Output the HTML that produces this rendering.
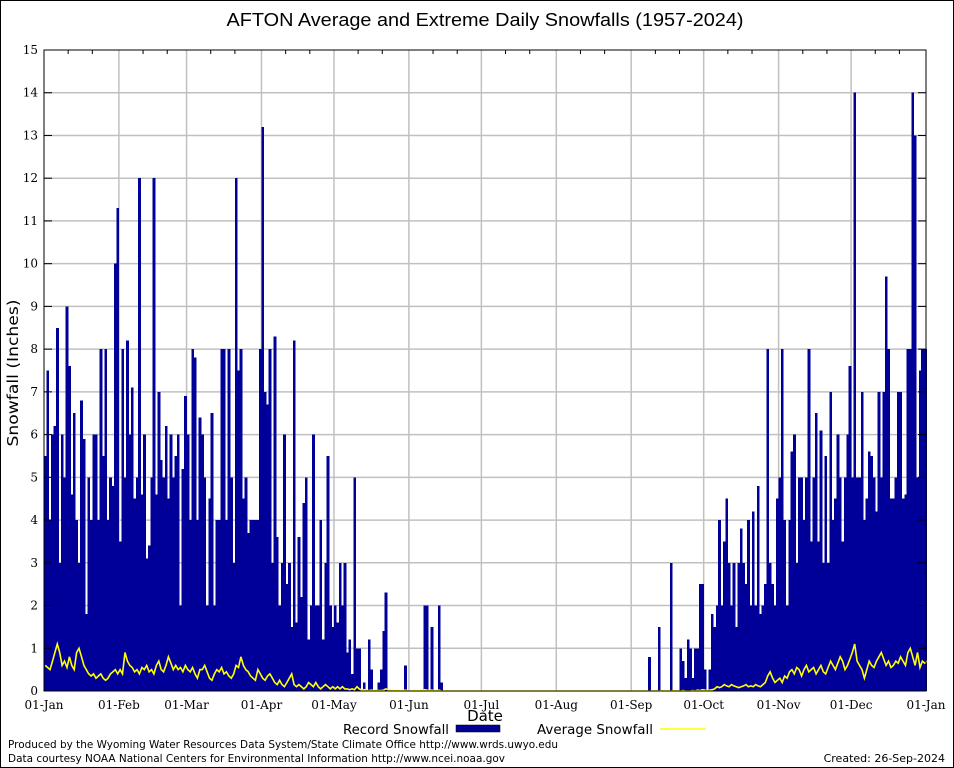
<!DOCTYPE html>
<html><head><meta charset="utf-8"><style>
html,body{margin:0;padding:0;background:#fff;}
svg{display:block;font-family:"DejaVu Sans","Liberation Sans",sans-serif;}
.serif{font-family:"DejaVu Serif","Liberation Serif",serif;}
</style></head><body>
<svg id="chart" width="954" height="768" viewBox="0 0 954 768">
<rect x="0.5" y="0.5" width="953" height="767" fill="#fff" stroke="#000" stroke-width="1"/>
<text x="485" y="26" font-size="18" text-anchor="middle" textLength="517" lengthAdjust="spacingAndGlyphs" font-family="Liberation Sans, sans-serif" fill="#000">AFTON Average and Extreme Daily Snowfalls (1957-2024)</text>
<text transform="translate(18,373) rotate(-90)" font-size="15" text-anchor="middle" textLength="147" lengthAdjust="spacingAndGlyphs" fill="#000">Snowfall (Inches)</text>
<text x="485" y="721" font-size="15" text-anchor="middle" fill="#000">Date</text>
<g id="grid"></g>
<g id="bars" shape-rendering="crispEdges"></g>
<g id="avg"></g>
<rect x="44" y="50" width="882" height="641" fill="none" stroke="#000" stroke-width="1" shape-rendering="crispEdges"/>
<g id="ticks"></g>
<g>
<text x="449" y="734" font-size="13" text-anchor="end" textLength="106" lengthAdjust="spacingAndGlyphs">Record Snowfall</text>
<rect x="456" y="725" width="44" height="7" fill="#000099" stroke="#000" stroke-width="0.5"/>
<text x="653" y="734" font-size="13" text-anchor="end" textLength="116" lengthAdjust="spacingAndGlyphs">Average Snowfall</text>
<line x1="660" y1="729" x2="706" y2="729" stroke="#ffff00" stroke-width="1.5"/>
</g>
<text x="8" y="748" font-size="11" textLength="550" lengthAdjust="spacingAndGlyphs">Produced by the Wyoming Water Resources Data System/State Climate Office http://www.wrds.uwyo.edu</text>
<text x="8" y="762" font-size="11" textLength="497" lengthAdjust="spacingAndGlyphs">Data courtesy NOAA National Centers for Environmental Information http://www.ncei.noaa.gov</text>
<text x="945" y="762" font-size="11" text-anchor="end">Created:  26-Sep-2024</text>
</svg>
<script>
const yTicks=[0,1,2,3,4,5,6,7,8,9,10,11,12,13,14,15];
const monthLabels=["01-Jan","01-Feb","01-Mar","01-Apr","01-May","01-Jun","01-Jul","01-Aug","01-Sep","01-Oct","01-Nov","01-Dec","01-Jan"];
const monthDays=[0,31,59,90,120,151,181,212,243,273,304,334,365];
const recordSnow=[
5.5,7.5,4,6,6.2,8.5,3,6,5,9,
7.6,4.6,6.5,4,3,6.8,5.9,1.8,5,4,
6,6,4,8,5.5,8,4,5,4.8,10,
11.3,3.5,8,5,8.2,6,7.1,4.5,5,12,
4.6,6,3.1,3.4,5,12,4.6,7,5.4,5,
6.2,4.5,6,5,5.5,6,2,5.2,6.9,6,
4,8,7.8,4,6.4,6,5,2,4.5,6.5,
2,4,4,8,8,4,8,5,3,12,
7.5,8,4.5,5,3.7,4,4,4,4,8,
13.2,7,6.7,8,3,8.3,3.6,2,3,6,
2.5,3,1.5,8.2,1.6,3.6,2.2,4.4,5,1.2,
2,6,2,2,4,1.2,3,5.5,2,1.5,
2,1.6,3,2,3,0.9,1.2,0.4,5,1,
1,0,0.2,0,1.2,0.5,0,0,0.2,0.5,
1.4,2.3,0,0,0,0,0,0,0,0.6,
0,0,0,0,0,0,0,2,2,0,
1.5,0,0,2,0.2,0,0,0,0,0,
0,0,0,0,0,0,0,0,0,0,
0,0,0,0,0,0,0,0,0,0,
0,0,0,0,0,0,0,0,0,0,
0,0,0,0,0,0,0,0,0,0,
0,0,0,0,0,0,0,0,0,0,
0,0,0,0,0,0,0,0,0,0,
0,0,0,0,0,0,0,0,0,0,
0,0,0,0,0,0,0,0,0,0,
0.8,0,0,0,1.5,0,0,0,0,3,
0,0,0,1,0.7,0.3,1.2,1,0.3,1,
1,2.5,2.5,0.5,0,0.5,1.8,1.5,2,4,
2,3.5,4.5,3,2,3,1.5,3,3.8,3,
2.5,4,2,4.2,2,4.8,1.8,2,2.5,8,
3,2.5,2,4.5,5,8,4,2,4,5.6,
6,3,5,5,4,5,8,3.5,5,6.5,
3.5,6.1,3,5.5,3,7,4,4.5,6,5,
3.5,5,6,7.6,5,14,5,5,7,4,
4.5,5.6,5.5,5,4.2,7,5,7,9.7,8,
4.5,4.5,5,7,7,4.5,4.6,8,8,14,
13,5,7.5,8,8,8];
const avgSnow=[
.6,.55,.5,.7,.9,1.1,.9,.6,.7,.55,
.8,.6,.5,.9,1.0,.8,.6,.5,.4,.35,
.4,.3,.35,.4,.3,.25,.3,.4,.45,.5,
.4,.5,.4,.9,.7,.6,.55,.45,.5,.4,
.55,.5,.6,.45,.5,.4,.6,.7,.5,.45,
.6,.8,.65,.5,.6,.5,.55,.45,.6,.5,
.45,.55,.4,.3,.5,.5,.6,.45,.3,.25,
.4,.5,.45,.55,.4,.45,.35,.3,.4,.6,
.55,.8,.6,.5,.45,.35,.3,.25,.5,.4,
.3,.25,.35,.4,.3,.2,.15,.25,.15,.1,
.2,.3,.4,.15,.1,.15,.1,.05,.1,.2,
.15,.1,.2,.1,.05,.1,.15,.1,.05,.1,
.05,.1,.05,.1,.05,.05,.03,.05,.03,.1,
.05,.02,.03,.02,.01,.02,.01,.02,.01,.01,
.02,.05,.03,.01,.01,.01,.01,0,.01,.02,
0,0,0,.01,0,0,.02,.03,.02,.01,
.02,0,.01,.02,0,0,0,0,0,0,
0,0,0,0,0,0,0,0,0,0,
0,0,0,0,0,0,0,0,0,0,
0,0,0,0,0,0,0,0,0,0,
0,0,0,0,0,0,0,0,0,0,
0,0,0,0,0,0,0,0,0,0,
0,0,0,0,0,0,0,0,0,0,
0,0,0,0,0,0,0,0,0,0,
0,0,0,0,0,0,0,0,0,0,
0,0,0,0,0,.01,0,0,0,0,
.01,0,0,0,.01,0,0,0,.01,0,
.02,.01,.03,.02,.01,.02,.03,.05,.1,.08,
.1,.15,.12,.1,.15,.12,.1,.08,.1,.12,
.15,.1,.12,.1,.15,.12,.1,.15,.2,.35,
.45,.3,.2,.25,.3,.2,.35,.3,.45,.5,
.4,.55,.5,.35,.5,.6,.45,.5,.55,.4,
.5,.6,.45,.4,.55,.7,.6,.5,.65,.8,
.7,.5,.6,.75,.9,1.1,.7,.6,.5,.3,
.5,.7,.6,.55,.7,.8,.9,.75,.6,.7,
.55,.6,.7,.65,.8,.7,.6,.9,1.0,.8,
.6,.9,.55,.7,.65,.7];

const NS='http://www.w3.org/2000/svg';
const X0=44,X1=926,Y0=691,Y1=50,NDAYS=365,YMAX=15;
function xs(d){return X0+(X1-X0)*d/NDAYS;}
function ys(v){return Y0-(Y0-Y1)*v/YMAX;}
function mk(tag,attrs,parent){const e=document.createElementNS(NS,tag);for(const k in attrs)e.setAttribute(k,attrs[k]);parent.appendChild(e);return e;}
const grid=document.getElementById('grid'),bars=document.getElementById('bars'),avgG=document.getElementById('avg'),ticks=document.getElementById('ticks');
yTicks.forEach(v=>{
  if(v>0&&v<YMAX){const l=mk('line',{x1:X0,x2:X1,y1:ys(v),y2:ys(v),stroke:'#c0c0c0','stroke-width':1.5},grid);
  
  }
  const t=mk('text',{x:X0-6,y:ys(v)+4,'font-size':12,'text-anchor':'end',class:'serif'},ticks);t.textContent=v;
  
  
  const tk=mk('line',{x1:X0,x2:X0+8,y1:ys(v),y2:ys(v),stroke:'#000'},ticks);
  
  
  const tk2=mk('line',{x1:X1-8,x2:X1,y1:ys(v),y2:ys(v),stroke:'#000'},ticks);
  
  
});
monthDays.forEach((d,i)=>{
  if(d>0&&d<NDAYS){const l=mk('line',{x1:xs(d),x2:xs(d),y1:Y1,y2:Y0,stroke:'#c0c0c0','stroke-width':1.5},grid);
  
  }
  const t=mk('text',{x:xs(d),y:709,'font-size':12,'text-anchor':'middle',class:'serif'},ticks);t.textContent=monthLabels[i];
  
  
  if(i<monthDays.length-1){
    [10,20].forEach(o=>{
      const m=mk('line',{x1:xs(d+o),x2:xs(d+o),y1:Y1,y2:Y1+4,stroke:'#000'},ticks);
      
      
    });
  }
});
recordSnow.forEach((v,d)=>{
  if(v<=0)return;
  const x=xs(d),w=Math.min(xs(d+1),X1)-x;
  const r=mk('rect',{x:x,y:ys(v),width:Math.max(w+0.3,0.8),height:Y0-ys(v),fill:'#000099'},bars);
  
  
});
const pts=avgSnow.map((v,d)=>xs(d+0.5).toFixed(1)+','+ys(v).toFixed(1)).join(' ');
const pl=mk('polyline',{points:pts,fill:'none',stroke:'#ffff00','stroke-width':1.6},avgG);


</script>
</body></html>
